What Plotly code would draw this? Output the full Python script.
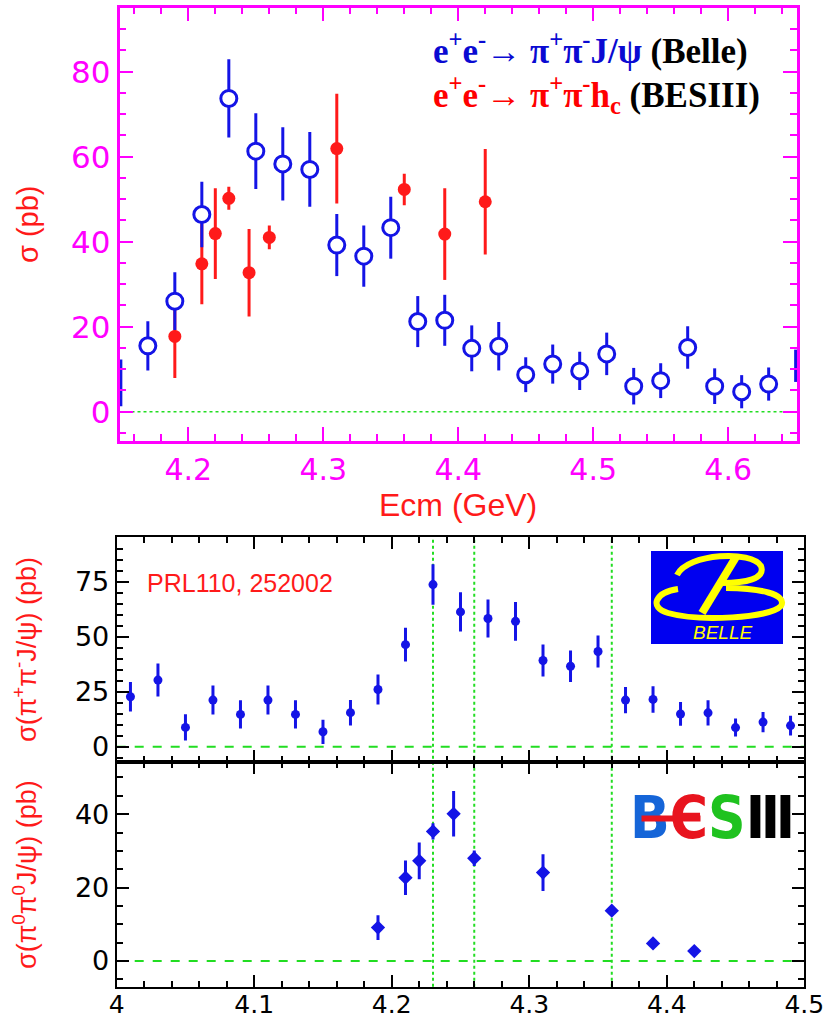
import plotly.graph_objects as go

# ---------------- data ----------------
# Belle e+e- -> pi+ pi- J/psi (PRL110, 252002)
belle_x = [4.01, 4.03, 4.05, 4.07, 4.09, 4.11, 4.13, 4.15, 4.17, 4.19,
           4.21, 4.23, 4.25, 4.27, 4.29, 4.31, 4.33, 4.35, 4.37, 4.39,
           4.41, 4.43, 4.45, 4.47, 4.49, 4.51, 4.53, 4.55, 4.57, 4.59,
           4.61, 4.63, 4.65]
belle_y = [22.7, 30.3, 8.8, 21.2, 14.7, 21.2, 14.7, 6.8, 15.5, 26.0,
           46.4, 73.7, 61.3, 58.3, 57.0, 39.2, 36.6, 43.3, 21.2, 21.5,
           14.9, 15.4, 8.7, 11.2, 9.6, 13.6, 6.0, 7.3, 15.1, 6.0,
           4.7, 6.5, 10.8]
belle_err = [6.7, 7.5, 6.0, 6.6, 6.4, 6.6, 6.4, 5.5, 5.8, 6.8,
             7.7, 9.2, 8.9, 8.6, 8.8, 7.3, 7.2, 7.3, 6.0, 6.0,
             5.4, 5.7, 4.1, 4.6, 4.5, 5.0, 4.3, 4.1, 5.0, 4.2,
             3.9, 3.9, 3.8]

# BESIII e+e- -> pi+ pi- h_c
hc_x = [4.19, 4.21, 4.22, 4.23, 4.245, 4.26, 4.31, 4.36, 4.39, 4.42]
hc_y = [17.7, 34.8, 41.9, 50.2, 32.7, 41.0, 61.9, 52.3, 41.8, 49.4]
hc_err = [9.8, 9.5, 10.7, 2.7, 10.3, 2.8, 12.9, 3.7, 10.8, 12.4]

# BESIII e+e- -> pi0 pi0 J/psi
pi0_x = [4.19, 4.21, 4.22, 4.23, 4.245, 4.26, 4.31, 4.36, 4.39, 4.42]
pi0_y = [9.1, 22.7, 27.3, 35.3, 40.1, 28.0, 24.1, 13.7, 4.8, 2.7]
pi0_err = [3.4, 4.7, 5.0, 2.2, 6.2, 2.1, 5.0, 1.3, 1.0, 1.0]

vlines_x = [4.23, 4.26, 4.36]

top_xrange = [4.149, 4.651]
bot_xrange = [4.0, 4.5]

# ---------------- layout helpers ----------------
W, H = 829, 1020
def px(x):
    return x / W
def py(y):
    return 1 - y / H

MAG = "#ff00ff"
RED = "#ff1a1a"
BLUE = "#1414e6"
GREEN = "#22dd22"
NUMFONT = "DejaVu Sans"
SANS = "Liberation Sans, Arial, sans-serif"

fig = go.Figure()

# --- top panel ---
edge = [i for i, x in enumerate(belle_x)
        if abs(x - top_xrange[0]) < 0.005 or abs(x - top_xrange[1]) < 0.005]
inside = [i for i, x in enumerate(belle_x)
          if top_xrange[0] + 0.005 < x < top_xrange[1] - 0.005]

fig.add_trace(go.Scatter(
    x=hc_x, y=hc_y, mode="markers", xaxis="x", yaxis="y",
    marker=dict(symbol="circle", size=13, color=RED),
    error_y=dict(type="data", array=hc_err, color=RED, thickness=3, width=0),
    showlegend=False))
fig.add_trace(go.Scatter(
    x=[belle_x[i] for i in edge], y=[belle_y[i] for i in edge],
    mode="markers", xaxis="x", yaxis="y",
    marker=dict(size=1, color="rgba(0,0,0,0)"),
    error_y=dict(type="data", array=[belle_err[i] for i in edge],
                 color=BLUE, thickness=3, width=0),
    showlegend=False))
fig.add_trace(go.Scatter(
    x=[belle_x[i] for i in inside], y=[belle_y[i] for i in inside],
    mode="markers", xaxis="x", yaxis="y",
    marker=dict(symbol="circle", size=16, color="white",
                line=dict(color=BLUE, width=3)),
    error_y=dict(type="data", array=[belle_err[i] for i in inside],
                 color=BLUE, thickness=3, width=0),
    showlegend=False))

# --- middle panel (Belle) ---
mid = [i for i, x in enumerate(belle_x) if bot_xrange[0] < x < bot_xrange[1]]
fig.add_trace(go.Scatter(
    x=[belle_x[i] for i in mid], y=[belle_y[i] for i in mid],
    mode="markers", xaxis="x2", yaxis="y2",
    marker=dict(symbol="circle", size=9, color=BLUE),
    error_y=dict(type="data", array=[belle_err[i] for i in mid],
                 color=BLUE, thickness=3, width=0),
    showlegend=False))

# --- bottom panel (BESIII pi0 pi0) ---
fig.add_trace(go.Scatter(
    x=pi0_x, y=pi0_y, mode="markers", xaxis="x3", yaxis="y3",
    marker=dict(symbol="diamond", size=11, color=BLUE),
    error_y=dict(type="data", array=pi0_err, color=BLUE, thickness=3, width=0),
    showlegend=False))

top_dom_x = [px(119.5), px(797)]
top_dom_y = [py(441), py(7.5)]
bot_dom_x = [px(116.7), px(804.3)]
p1_dom_y = [py(761.7), py(537.3)]
p2_dom_y = [py(986.7), py(761.7)]

def axis_common(color, lw, tl, mtl, dtick, mdtick, fsize, fcolor, show=True):
    return dict(showline=True, linecolor=color, linewidth=lw, mirror="ticks",
                ticks="inside", ticklen=tl, tickwidth=2, tickcolor=color,
                dtick=dtick, tick0=0, showgrid=False, zeroline=False,
                showticklabels=show, automargin=False,
                tickfont=dict(family=NUMFONT, size=fsize, color=fcolor),
                minor=dict(dtick=mdtick, tick0=0, ticks="inside", ticklen=mtl,
                           tickwidth=2, tickcolor=color, showgrid=False))

fig.update_layout(
    width=W, height=H, margin=dict(l=0, r=0, t=0, b=0),
    paper_bgcolor="white", plot_bgcolor="white",
    xaxis=dict(domain=top_dom_x, range=top_xrange, anchor="y",
               **axis_common(MAG, 2.5, 14, 7, 0.1, 0.02, 30, MAG)),
    yaxis=dict(domain=top_dom_y, range=[-6.9, 95.1], anchor="x",
               **axis_common(MAG, 2.5, 14, 7, 20, 5, 31, MAG)),
    xaxis2=dict(domain=bot_dom_x, range=bot_xrange, anchor="y2",
                **axis_common("black", 2, 12, 6, 0.1, 0.02, 27, "black", show=False)),
    yaxis2=dict(domain=p1_dom_y, range=[-6.8, 95.2], anchor="x2",
                **axis_common("black", 2, 12, 6, 25, 5, 27, "black")),
    xaxis3=dict(domain=bot_dom_x, range=bot_xrange, anchor="y3",
                ticklabelstandoff=-6,
                **axis_common("black", 2, 12, 6, 0.1, 0.02, 25, "black")),
    yaxis3=dict(domain=p2_dom_y, range=[-7, 54.3], anchor="x3",
                **axis_common("black", 2, 12, 6, 20, 5, 27, "black")),
)

shapes = []
# zero lines
shapes.append(dict(type="line", xref="x domain", yref="y", x0=0, x1=1, y0=0, y1=0,
                   line=dict(color=GREEN, width=1.5, dash="dot"), layer="below"))
for ya, xa in (("y2", "x2 domain"), ("y3", "x3 domain")):
    shapes.append(dict(type="line", xref=xa, yref=ya, x0=0, x1=1, y0=0, y1=0,
                       line=dict(color=GREEN, width=2, dash="dash"), layer="below"))
for vx in vlines_x:
    shapes.append(dict(type="line", xref="x2", yref="paper", x0=vx, x1=vx,
                       y0=p2_dom_y[0], y1=p1_dom_y[1],
                       line=dict(color=GREEN, width=2, dash="dot"), layer="below"))

# Belle logo
shapes.append(dict(type="rect", xref="paper", yref="paper",
                   x0=px(651), x1=px(783), y0=py(644), y1=py(551),
                   fillcolor="#0000f0", line=dict(width=0)))
def P(x, y):
    return f"{px(x):.5f},{py(y):.5f}"
upper = f"M {P(677,575)} C {P(688,553)} {P(752,550)} {P(761,566)} C {P(766,579)} {P(745,583)} {P(722,583)}"
lower = f"M {P(678,589)} C {P(656,592)} {P(648,607)} {P(668,613)} C {P(700,622)} {P(770,618)} {P(781,606)} C {P(788,594)} {P(758,588)} {P(726,588)}"
stroke = f"M {P(736,557)} L {P(702,613)}"
for pth, w in ((upper, 6), (lower, 6), (stroke, 8)):
    shapes.append(dict(type="path", xref="paper", yref="paper", path=pth,
                       line=dict(color="#ffff00", width=w)))
fig.update_layout(shapes=shapes)

def A(text, x, y, xanchor="center", **kw):
    d = dict(text=text, x=px(x), y=py(y), xref="paper", yref="paper",
             xanchor=xanchor, yanchor="middle", showarrow=False)
    d.update(kw)
    return d

ann = []
# axis titles
ann.append(A("σ (pb)", 28, 224, textangle=-90,
             font=dict(family=SANS, size=29, color=RED)))
ann.append(A("Ecm (GeV)", 458, 505, font=dict(family=SANS, size=32, color=RED)))
ann.append(A("σ(π<sup>+</sup>π<sup>-</sup>J/ψ) (pb)", 25, 650, textangle=-90,
             font=dict(family=SANS, size=27, color=RED)))
ann.append(A("σ(π<sup>0</sup>π<sup>0</sup>J/ψ) (pb)", 25, 875, textangle=-90,
             font=dict(family=SANS, size=27, color=RED)))
ann.append(A("PRL110, 252002", 145, 583, xanchor="left",
             font=dict(family=SANS, size=25, color=RED)))
# legend text
SERIF = "Liberation Serif, Times New Roman, serif"
ann.append(A("<b><span style='color:#0a0ad2'>e<sup>+</sup>e<sup>-</sup>→ π<sup>+</sup>π<sup>-</sup>J/ψ</span> (Belle)</b>",
             431, 48, xanchor="left", font=dict(family=SERIF, size=35, color="black")))
ann.append(A("<b><span style='color:#ff0000'>e<sup>+</sup>e<sup>-</sup>→ π<sup>+</sup>π<sup>-</sup>h<sub>c</sub></span> (BESIII)</b>",
             431, 94, xanchor="left", font=dict(family=SERIF, size=35, color="black")))
# Belle logo text
ann.append(A("<i>BELLE</i>", 722, 632, font=dict(family=SANS, size=19, color="#ffff00")))
# BESIII logo
ann.append(A("<b><span style='color:#1565d8'>B</span><span style='color:#e8141e'>Є</span><span style='color:#1fc21f'>S</span><span style='color:black'>Ⅲ</span></b>",
             712, 818, font=dict(family="Liberation Sans Narrow, DejaVu Sans Condensed, Liberation Sans", size=58)))
ann.append(A(" ", 671, 818, width=58, height=5, bgcolor="#e8141e", borderpad=0,
             font=dict(size=1)))
fig.update_layout(annotations=ann)

fig.write_html("out.html", post_script="document.body.style.margin='0px';",
               config={"displayModeBar": False})
